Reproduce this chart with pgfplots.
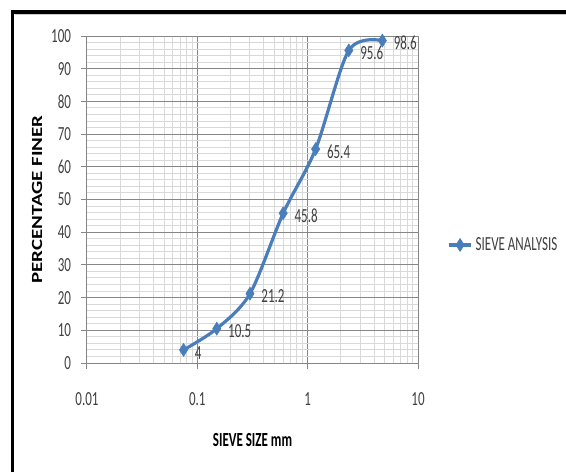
\documentclass[border=0pt]{standalone}
\usepackage{pgfplots}
\pgfplotsset{compat=1.18}
\usepackage{fontspec}
\setmainfont[FakeStretch=0.65]{Carlito}
\newfontfamily\ylabfont{Carlito}
\definecolor{excelblue}{HTML}{4A7EBB}
\definecolor{majgrid}{HTML}{868686}
\definecolor{mingrid}{HTML}{D9D9D9}
\definecolor{labtext}{HTML}{404040}
\begin{document}
\begin{tikzpicture}
\path[use as bounding box] (0,0) rectangle (424.5pt,354pt);
\draw[black!20, line width=1pt] (10.9pt,343.3pt) -- (424.5pt,343.3pt);
\draw[line width=2.6pt, line join=miter] (9.4pt,0) -- (9.4pt,345pt) -- (424.5pt,345pt);
\begin{axis}[
  at={(65.25pt,81.75pt)}, anchor=south west,
  scale only axis, width=248.25pt, height=245.25pt,
  xmode=log, xmin=0.01, xmax=10, ymin=0, ymax=100,
  xtick={0.01,0.1,1,10}, xticklabels={0.01,0.1,1,10},
  ytick={0,10,20,30,40,50,60,70,80,90,100},
  minor y tick num=4,
  grid=both,
  major grid style={majgrid, line width=0.75pt},
  minor grid style={mingrid, line width=0.75pt},
  axis line style={majgrid, line width=0.75pt},
  tick align=outside, major tick length=4.5pt, minor tick length=0pt,
  tick style={majgrid, line width=0.75pt},
  xtick pos=bottom, ytick pos=left,
  /pgf/number format/assume math mode=true,
  every tick label/.append style={font=\fontsize{15pt}{18pt}\selectfont, text=labtext},
  xticklabel shift=14pt,
  yticklabel shift=4pt,
  xlabel={\bfseries SIEVE SIZE mm},
  xlabel style={at={(axis description cs:0.5,0)}, anchor=center, yshift=-57.75pt, font=\fontsize{15pt}{18pt}\selectfont, text=black},
  ylabel={\scalebox{1.35}[1]{\ylabfont\bfseries PERCENTAGE FINER}},
  ylabel style={at={(axis description cs:-0.151,0.5)}, anchor=center, font=\fontsize{11.6pt}{14pt}\selectfont, text=black},
  legend style={at={(axis description cs:1.075,0.361)}, anchor=west, draw=none, fill=none,
    font=\fontsize{15pt}{18pt}\selectfont, text=labtext},
  legend cell align=left,
  nodes near coords,
  point meta=explicit symbolic,
  every node near coord/.append style={anchor=west, xshift=5pt, yshift=-2pt,
    font=\fontsize{15pt}{18pt}\selectfont, text=labtext},
]
\addplot[excelblue, line width=2.4pt, smooth, mark=diamond*, mark size=4.8pt,
  mark options={fill=excelblue, draw=excelblue, line width=0.5pt, xscale=0.85}]
  coordinates {
    (0.075,4) [4]
    (0.15,10.5) [10.5]
    (0.3,21.2) [21.2]
    (0.6,45.8) [45.8]
    (1.18,65.4) [65.4]
    (2.36,95.6) [95.6]
    (4.75,98.6) [98.6]
  };
\addlegendentry{SIEVE ANALYSIS}
\end{axis}
\end{tikzpicture}
\end{document}
